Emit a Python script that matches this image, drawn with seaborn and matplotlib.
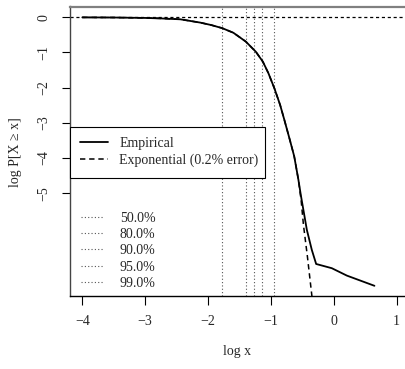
import matplotlib
matplotlib.use("Agg")
import matplotlib.pyplot as plt
import seaborn as sns
import numpy as np
import pandas as pd
from matplotlib.lines import Line2D

# ---- data ----
emp_x = [-4.0, -3.5, -3.0, -2.75, -2.441, -2.126, -1.95, -1.772, -1.597, -1.400,
         -1.240, -1.129, -1.040, -0.945, -0.854, -0.786, -0.700, -0.630,
         -0.563, -0.525, -0.429, -0.350, -0.281, -0.032, 0.207, 0.646]
emp_y = [-0.002, -0.006, -0.018, -0.032, -0.057, -0.150, -0.22, -0.31, -0.44, -0.69,
         -0.98, -1.26, -1.59, -2.02, -2.49, -2.92, -3.48, -3.95,
         -4.62, -5.05, -6.04, -6.61, -7.01, -7.13, -7.34, -7.63]
exp_x = [-4.0, -3.5, -3.0, -2.75, -2.441, -2.126, -1.95, -1.772, -1.597, -1.400,
         -1.240, -1.129, -1.040, -0.945, -0.854, -0.786, -0.700, -0.630,
         -0.563, -0.520, -0.483, -0.420, -0.350, -0.300]
exp_y = [-0.002, -0.006, -0.018, -0.032, -0.057, -0.150, -0.22, -0.31, -0.44, -0.69,
         -0.98, -1.26, -1.59, -2.02, -2.49, -2.92, -3.48, -3.95,
         -4.62, -5.20, -5.90, -6.80, -7.90, -8.80]
quant_x = [-1.771, -1.400, -1.265, -1.135, -0.949]
quant_labels = ["50.0%", "80.0%", "90.0%", "95.0%", "99.0%"]
x_ticks = [-4, -3, -2, -1, 0, 1]
y_ticks = [0, -1, -2, -3, -4, -5]
legend_labels = ["Empirical", "Exponential (0.2% error)"]

sns.set_style("ticks")
plt.rcParams["font.family"] = ["Liberation Serif", "DejaVu Serif"]
plt.rcParams["font.size"] = 10

fig = plt.figure(figsize=(4.06, 3.69), dpi=100)
ax = fig.add_axes([70 / 406, 1 - 296 / 369, 336 / 406, (296 - 6.5) / 369])

# quantile lines
qcol = "#555555"
for q in quant_x:
    ax.axvline(q, color=qcol, lw=0.8, linestyle=(0, (1, 2)), zorder=1)

ax.axhline(0, color="black", lw=0.9, linestyle=(0, (2.5, 2.2)), zorder=2)

df_emp = pd.DataFrame({"x": emp_x, "y": emp_y})
df_exp = pd.DataFrame({"x": exp_x, "y": exp_y})
sns.lineplot(data=df_exp, x="x", y="y", ax=ax, color="black", lw=1.1,
             sort=False, estimator=None, linestyle=(0, (3.5, 2.5)), zorder=3)
sns.lineplot(data=df_emp, x="x", y="y", ax=ax, color="black", lw=1.3,
             sort=False, estimator=None, zorder=4)

ax.set_xlim(-4.196, 1.148)
ax.set_ylim(-7.92, 0.307)
ax.set_xticks(x_ticks)
ax.set_xticklabels([f"{t}".replace("-", "\u2212") for t in x_ticks])
ax.set_yticks(y_ticks)
ax.set_yticklabels([f"{t}".replace("-", "\u2212") for t in y_ticks],
                   rotation=90, va="center")
ax.tick_params(axis="x", length=6.5, width=0.8, pad=7, labelsize=10, color="black")
ax.tick_params(axis="y", length=6, width=0.8, pad=8, labelsize=10, color="black")
ax.set_xlabel("")
ax.set_ylabel("")

ax.spines["right"].set_visible(False)
ax.spines["top"].set_visible(True)
ax.spines["top"].set_color("#808080")
ax.spines["top"].set_linewidth(1.6)
ax.spines["left"].set_color("#444444")
ax.spines["left"].set_linewidth(1.0)
ax.spines["bottom"].set_color("black")
ax.spines["bottom"].set_linewidth(1.0)

fig.text(237 / 406, 1 - 352 / 369, "log x", ha="center", va="center", fontsize=10)
fig.text(15 / 406, 1 - 152 / 369, "log P[X \u2265 x]", ha="center", va="center",
         rotation=90, fontsize=10)

# legend 1
h1 = [Line2D([], [], color="black", lw=1.3),
      Line2D([], [], color="black", lw=1.1, linestyle=(0, (3.5, 2.5)))]
leg1 = ax.legend(h1, legend_labels, loc="upper left",
                 bbox_to_anchor=(0, 0.574, 0.5804, 0.01), mode="expand",
                 borderaxespad=0, borderpad=0.75, handlelength=2.0,
                 handletextpad=0.8, labelspacing=0.25, fancybox=False,
                 framealpha=1, edgecolor="black", fontsize=10)
leg1.get_frame().set_linewidth(0.8)
leg1.set_zorder(5)
ax.add_artist(leg1)

# legend 2
h2 = [Line2D([], [], color=qcol, lw=0.8, linestyle=(0, (1, 2))) for _ in quant_x]
leg2 = ax.legend(h2, quant_labels, loc="upper left",
                 bbox_to_anchor=(0, 0.330), borderaxespad=0, borderpad=0.8,
                 handlelength=1.6, handletextpad=1.2, labelspacing=0.24,
                 frameon=False, fontsize=10)

fig.savefig("out.png", dpi=100)
